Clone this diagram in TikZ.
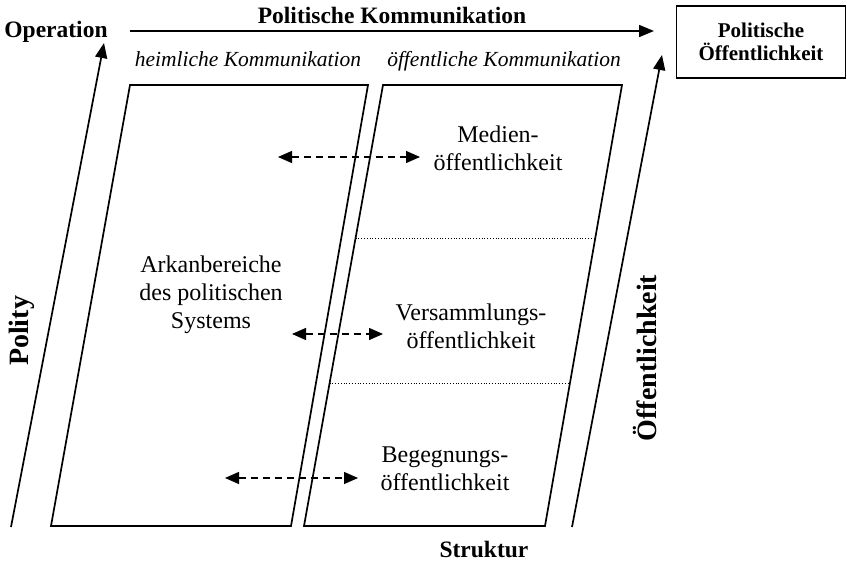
\documentclass[tikz,border=0pt]{standalone}
\usepackage{fontspec}
\setmainfont{Liberation Serif}
\usetikzlibrary{arrows.meta,calc}
\begin{document}
\begin{tikzpicture}[x=1pt,y=-1pt,
  line/.style={line width=1.7pt},
  bigarrow/.style={line width=1.7pt,-{Triangle[length=15pt,width=12pt]}},
  dasharrow/.style={line width=1.3pt,dash pattern=on 7pt off 5pt,{Triangle[length=14pt,width=12pt]}-{Triangle[length=14pt,width=12pt]}},
  sep/.style={line width=0.8pt,dotted},
  body/.style={font=\fontsize{24}{28}\selectfont,align=center,inner sep=0pt},
  head/.style={font=\fontsize{23.5}{28}\selectfont\bfseries,inner sep=0pt},
  ital/.style={font=\fontsize{21.5}{26}\selectfont\itshape,inner sep=0pt},
  side/.style={font=\fontsize{28}{32}\selectfont\bfseries,inner sep=0pt,rotate=90},
  pbox/.style={draw,line width=1.7pt,minimum width=169pt,minimum height=72pt,align=center,font=\fontsize{21}{25}\selectfont\bfseries}]
\useasboundingbox (0,0) rectangle (847,561);
% parallelograms
\coordinate (l1) at (130,85); \coordinate (l2) at (368,85);
\coordinate (l3) at (291,526); \coordinate (l4) at (51,526);
\coordinate (r1) at (383,85); \coordinate (r2) at (622,85);
\coordinate (r3) at (545,526); \coordinate (r4) at (304,526);
\draw[line,line join=miter] (l1) -- (l2) -- (l3) -- (l4) -- cycle;
\draw[line,line join=miter] (r1) -- (r2) -- (r3) -- (r4) -- cycle;
% dotted separators
\draw[sep] ($(r1)!0.347!(r4)$) coordinate (d1a) -- ($(r2)!0.347!(r3)$) coordinate (d1b);
\draw[sep] ($(r1)!0.676!(r4)$) coordinate (d2a) -- ($(r2)!0.676!(r3)$) coordinate (d2b);
% axes
\coordinate (pa) at (11,527); \coordinate (pb) at (104,43);
\draw[bigarrow] (pa) -- (pb);
\coordinate (oa) at (572,527); \coordinate (ob) at (662,55);
\draw[bigarrow] (oa) -- (ob);
\coordinate (ka) at (130,31); \coordinate (kb) at (654,31);
\draw[bigarrow] (ka) -- (kb);
% box
\node[pbox] (box) at (761,42) {Politische\\[-2pt]Öffentlichkeit};
% labels
\node[head,anchor=base] (op) at (56,38) {Operation};
\node[head,anchor=base] (pk) at (392,24) {Politische Kommunikation};
\node[ital,anchor=base] (hk) at (248,67) {heimliche Kommunikation};
\node[ital,anchor=base] (ok) at (504,67) {öffentliche Kommunikation};
\node[head,anchor=base] (st) at (484,557) {Struktur};
\node[side] (pol) at (22,331) {Polity};
\node[side] (oef) at (645,358) {Öffentlichkeit};
% texts
\node[body] (ark) at (211,295) {Arkanbereiche\\des politischen\\Systems};
\node[body] (med) at (498,148) {Medien-\\öffentlichkeit};
\node[body] (ver) at (471,326) {Versammlungs-\\öffentlichkeit};
\node[body] (beg) at (445,469) {Begegnungs-\\öffentlichkeit};
% dashed arrows
\coordinate (a1) at (278,157); \coordinate (a2) at (420,157);
\coordinate (b1) at (292,334); \coordinate (b2) at (383,334);
\coordinate (c1) at (225,478); \coordinate (c2) at (358,478);
\draw[dasharrow] (a1) -- (a2);
\draw[dasharrow] (b1) -- (b2);
\draw[dasharrow] (c1) -- (c2);
\end{tikzpicture}
\end{document}
